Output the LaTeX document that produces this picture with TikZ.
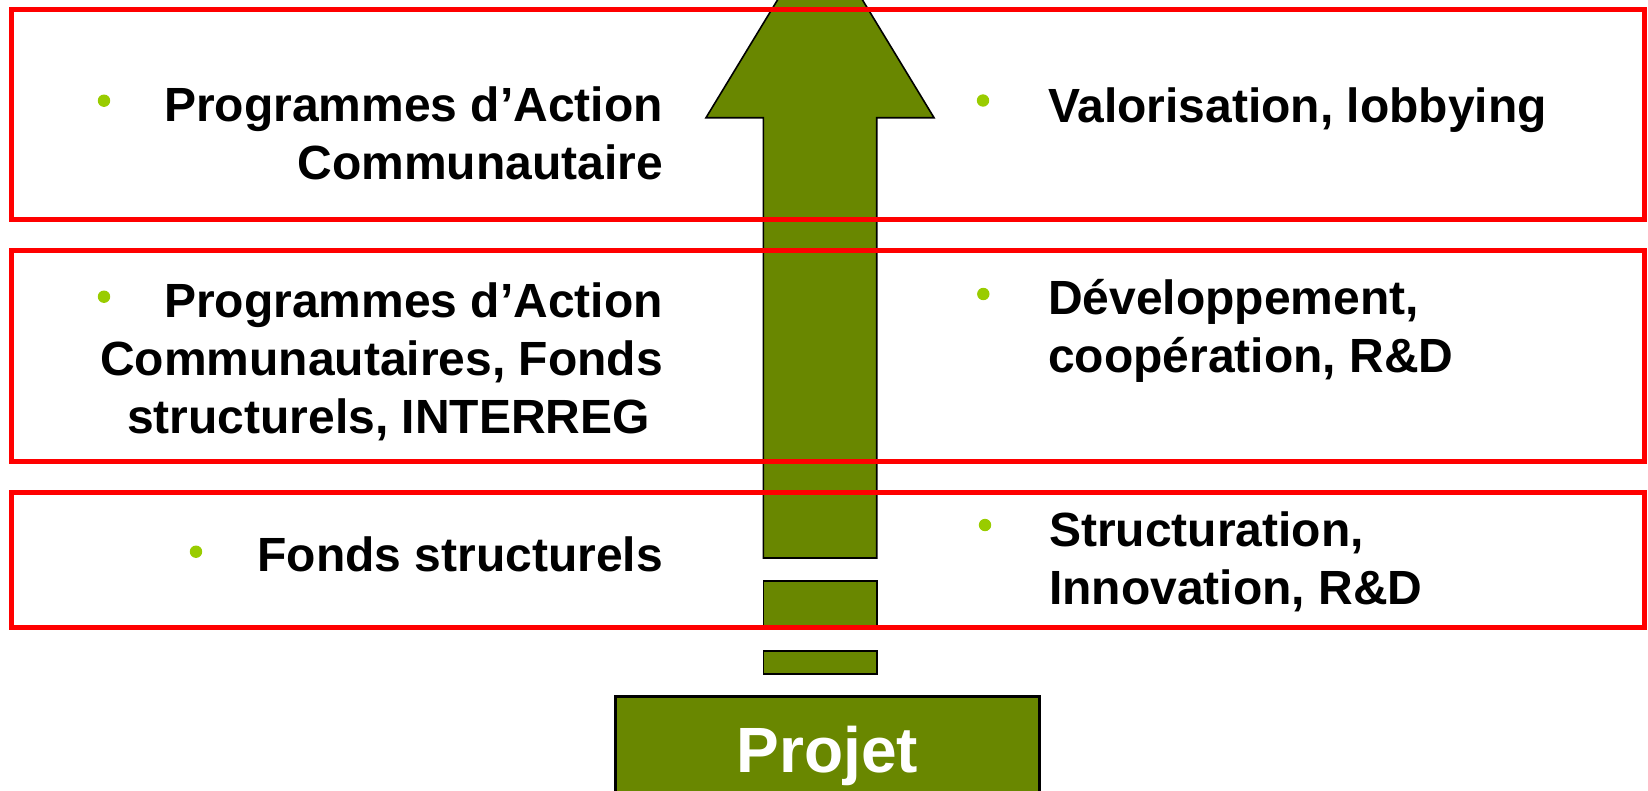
\documentclass[tikz,border=0pt]{standalone}
\usepackage{fontspec}
\setmainfont{Liberation Sans}
\definecolor{olivegreen}{RGB}{105,135,0}
\definecolor{boxred}{RGB}{255,0,0}
\definecolor{bulletgreen}{RGB}{153,204,0}
\tikzset{
  frame/.style={draw=boxred, line width=5pt},
  greenshape/.style={fill=olivegreen, draw=black, line width=1.6pt, line join=miter},
  bulletdot/.style={circle, fill=bulletgreen, minimum size=12.4pt, inner sep=0pt},
  lefttxt/.style={anchor=base east, inner sep=0pt, font=\fontsize{48}{58}\selectfont\bfseries},
  righttxt/.style={anchor=base west, inner sep=0pt, font=\fontsize{48}{58}\selectfont\bfseries},
}
\begin{document}
\begin{tikzpicture}[x=1pt, y=-1pt]
\useasboundingbox (0,0) rectangle (1648,790);
\clip (0,0) rectangle (1648,790);
% arrow
\draw[greenshape] (763.3,558) -- (763.3,117.7) -- (706,117.7) -- (820,-70) -- (934,117.7) -- (876.7,117.7) -- (876.7,558) -- cycle;
\draw[greenshape] (763.3,581) rectangle (876.7,627);
\draw[greenshape] (763.3,650.7) rectangle (876.7,674);
% projet
\draw[fill=olivegreen, draw=black, line width=2.5pt] (615.7,696.7) rectangle (1039.3,840);
\node[anchor=base, inner sep=0pt, text=white, font=\fontsize{64}{70}\selectfont\bfseries] (projet) at (827.5,772) {Projet};
% frames
\draw[frame] (11,9) rectangle (1644,219.5);
\draw[frame] (11,250.7) rectangle (1644,461.7);
\draw[frame] (11,492.3) rectangle (1644,627);
% box 1
\node[bulletdot] (b1l) at (104,100.7) {};
\node[lefttxt] (t1a) at (663,121.7) {Programmes d’Action};
\node[lefttxt] (t1b) at (663,179.7) {Communautaire};
\node[bulletdot] (b1r) at (983,100.5) {};
\node[righttxt] (t1r) at (1048,122) {Valorisation, lobbying};
% box 2
\node[bulletdot] (b2l) at (104,296.7) {};
\node[lefttxt] (t2a) at (663,317) {Programmes d’Action};
\node[lefttxt] (t2b) at (663,375) {Communautaires, Fonds};
\node[lefttxt] (t2c) at (650,433) {structurels, INTERREG};
\node[bulletdot] (b2r) at (983.3,294) {};
\node[righttxt] (t2r1) at (1048,314.3) {Développement,};
\node[righttxt] (t2r2) at (1048,372.3) {coopération, R\&D};
% box 3
\node[bulletdot] (b3l) at (196,551.7) {};
\node[lefttxt] (t3l) at (663,571.7) {Fonds structurels};
\node[bulletdot] (b3r) at (985,525) {};
\node[righttxt] (t3r1) at (1049,546.7) {Structuration,};
\node[righttxt] (t3r2) at (1049,604.7) {Innovation, R\&D};
\end{tikzpicture}
\end{document}
